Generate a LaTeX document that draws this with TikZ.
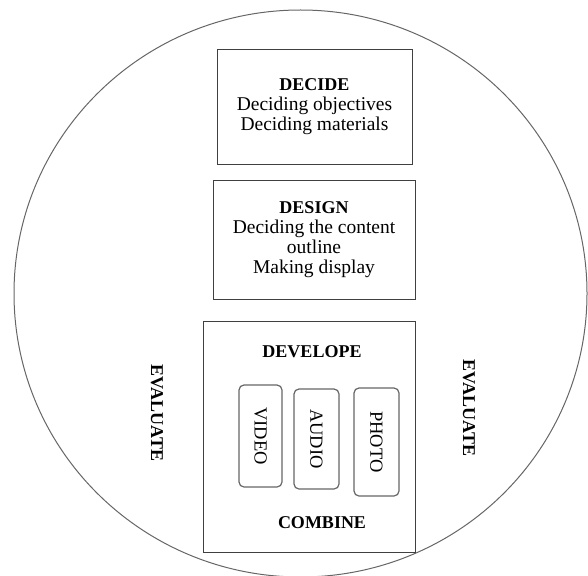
\documentclass[tikz,border=0pt]{standalone}
\usepackage{fontspec}
\setmainfont{Liberation Serif}
\begin{document}
\begin{tikzpicture}[x=1pt,y=-1pt,
  every node/.style={font=\fontsize{19.5}{20}\selectfont, inner sep=0pt},
  stagebox/.style={draw=black!75, line width=1pt, align=center},
  mediabox/.style={draw=black!60, line width=1.2pt, rounded corners=5pt, rotate=-90, font=\fontsize{18.5}{20}\selectfont},
  vlabel/.style={font=\fontsize{18}{20}\selectfont\bfseries, rotate=-90},
  title/.style={font=\fontsize{18}{20}\selectfont\bfseries, anchor=base}]
\useasboundingbox (0,0) rectangle (588,575);
\draw[black!60, line width=1pt] (300.5,293.5) ellipse [x radius=286.5, y radius=283.5];

\node[stagebox, minimum width=195, minimum height=114] (decide) at (314.5,107)
  {{\fontsize{18}{20}\selectfont\bfseries DECIDE}\\Deciding objectives\\Deciding materials};
\node[stagebox, minimum width=202, minimum height=119] (design) at (314,239.5)
  {{\fontsize{18}{20}\selectfont\bfseries DESIGN}\\Deciding the content\\outline\\Making display};
\node[stagebox, minimum width=212, minimum height=231] (develop) at (309,436.5) {};
\node[title] (developt) at (312,357) {DEVELOPE};
\node[title] (combine) at (322,528) {COMBINE};

\node[mediabox, minimum width=102, minimum height=43] (video) at (260.5,436) {VIDEO};
\node[mediabox, minimum width=100, minimum height=45] (audio) at (316.5,439) {AUDIO};
\node[mediabox, minimum width=108, minimum height=45] (photo) at (376.5,442) {PHOTO};

\node[vlabel] (evall) at (157,413) {EVALUATE};
\node[vlabel] (evalr) at (469,408) {EVALUATE};
\end{tikzpicture}
\end{document}
